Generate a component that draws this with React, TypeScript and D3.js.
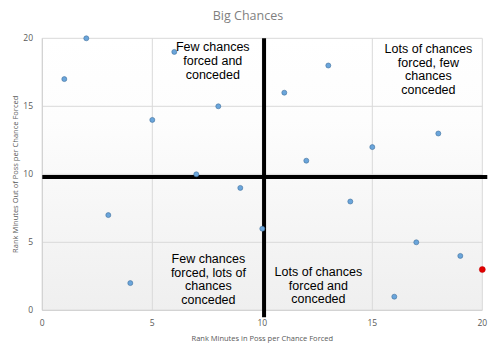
import React from "react";
import * as d3 from "d3";

const xRanks = [1, 2, 3, 4, 5, 6, 7, 8, 9, 10, 11, 12, 13, 14, 15, 16, 17, 18, 19, 20];
const yRanks = [17, 20, 7, 2, 14, 19, 10, 15, 9, 6, 16, 11, 18, 8, 12, 1, 5, 13, 4, 3];
const highlightIndex = 19;
const xTicks = [0, 5, 10, 15, 20];
const yTicks = [0, 5, 10, 15, 20];
const dividerX = 10.08;
const dividerY = 9.8;

const quadrantLabels = [
  { x: 7.75, y: 19.7, lines: ["Few chances", "forced and", "conceded"] },
  { x: 17.55, y: 19.6, lines: ["Lots of chances", "forced, few", "chances", "conceded"] },
  { x: 7.55, y: 4.15, lines: ["Few chances", "forced, lots of", "chances", "conceded"] },
  { x: 12.55, y: 3.2, lines: ["Lots of chances", "forced and", "conceded"] },
];

const W = 497;
const H = 354;
const left = 42.3;
const right = 482.3;
const top = 38.3;
const bottom = 310.3;

export default function App() {
  const x = d3.scaleLinear().domain([0, 20]).range([left, right]);
  const y = d3.scaleLinear().domain([0, 20]).range([bottom, top]);
  const gray = "#595959";

  return (
    <svg
      width={W}
      height={H}
      style={{ position: "absolute", left: 0, top: 0, background: "#fff" }}
    >
      <defs>
        <linearGradient id="bg" x1="0" y1="0" x2="0" y2="1">
          <stop offset="0" stopColor="#ffffff" />
          <stop offset="0.3" stopColor="#fdfdfd" />
          <stop offset="1" stopColor="#efefef" />
        </linearGradient>
      </defs>
      <text
        x={248}
        y={20}
        textAnchor="middle"
        fontFamily="Open Sans, Liberation Sans, sans-serif"
        fontSize={12.5}
        fill="#7f7f7f"
      >
        Big Chances
      </text>
      <rect x={left} y={top} width={right - left} height={bottom - top} fill="url(#bg)" />
      {xTicks.map((t) => (
        <line key={"gx" + t} x1={x(t)} x2={x(t)} y1={top} y2={bottom} stroke="#d9d9d9" strokeWidth={1} />
      ))}
      {yTicks.map((t) => (
        <line key={"gy" + t} x1={left} x2={right} y1={y(t)} y2={y(t)} stroke="#d9d9d9" strokeWidth={1} />
      ))}
      <line x1={left} x2={left} y1={top} y2={bottom} stroke="#d0d0d0" />
      <line x1={left} x2={right} y1={bottom} y2={bottom} stroke="#d0d0d0" />
      {xTicks.map((t) => (
        <text
          key={"tx" + t}
          x={x(t)}
          y={326}
          textAnchor="middle"
          fontFamily="Open Sans, Liberation Sans, sans-serif"
          fontSize={8.5}
          fill={gray}
        >
          {t}
        </text>
      ))}
      {yTicks.map((t) => (
        <text
          key={"ty" + t}
          x={33}
          y={y(t) + 3}
          textAnchor="end"
          fontFamily="Open Sans, Liberation Sans, sans-serif"
          fontSize={8.5}
          fill={gray}
        >
          {t}
        </text>
      ))}
      <text
        x={(left + right) / 2}
        y={341}
        textAnchor="middle"
        fontFamily="Open Sans, Liberation Sans, sans-serif"
        fontSize={7.5}
        fill={gray}
      >
        Rank Minutes in Poss per Chance Forced
      </text>
      <text
        transform={`translate(18,${(top + bottom) / 2}) rotate(-90)`}
        textAnchor="middle"
        fontFamily="Open Sans, Liberation Sans, sans-serif"
        fontSize={7.5}
        fill={gray}
      >
        Rank Minutes Out of Poss per Chance Forced
      </text>
      <line x1={x(dividerX)} x2={x(dividerX)} y1={top} y2={bottom + 7} stroke="#000" strokeWidth={4} />
      <line x1={left} x2={right + 5} y1={y(dividerY)} y2={y(dividerY)} stroke="#000" strokeWidth={4} />
      {xRanks.map((xv, i) =>
        i === highlightIndex ? null : (
          <circle
            key={"p" + i}
            cx={x(xv)}
            cy={y(yRanks[i])}
            r={2.5}
            fill="#6aa5db"
            stroke="#41719c"
            strokeWidth={0.6}
          />
        )
      )}
      <circle
        cx={x(xRanks[highlightIndex])}
        cy={y(yRanks[highlightIndex])}
        r={3}
        fill="#e00000"
        stroke="#c00000"
        strokeWidth={0.5}
      />
      {quadrantLabels.map((q, i) => (
        <text
          key={"q" + i}
          textAnchor="middle"
          fontFamily="Liberation Sans, Arial, sans-serif"
          fontSize={12.5}
          fill="#000"
        >
          {q.lines.map((l, j) => (
            <tspan key={j} x={x(q.x)} y={y(q.y) + 9 + j * 13.8}>
              {l}
            </tspan>
          ))}
        </text>
      ))}
    </svg>
  );
}
